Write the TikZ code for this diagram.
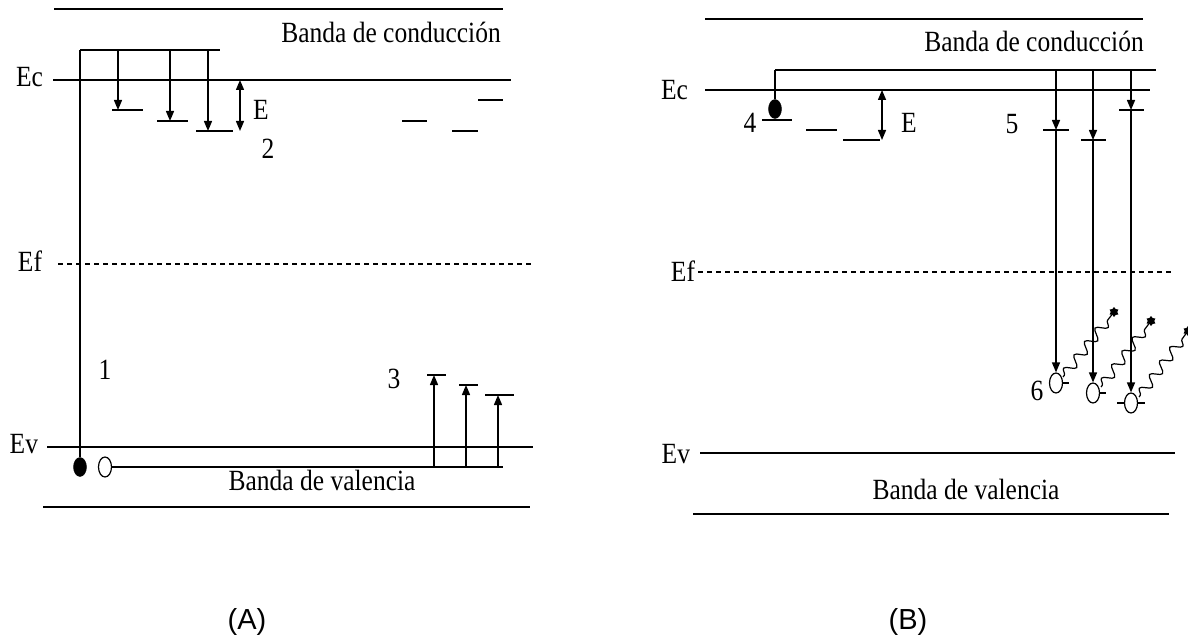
\documentclass[tikz,border=0pt]{standalone}
\usepackage{fontspec}
\usepackage{graphicx}
\setmainfont{Liberation Serif}
\newfontfamily\capsans{Liberation Sans}
\usetikzlibrary{arrows.meta,decorations.pathmorphing,shapes.geometric}
\newcommand\stt[1]{\scalebox{1}[1.15]{#1}}
\tikzset{
  ln/.style={line width=1.4pt, line cap=butt},
  arr/.style={-{Triangle[length=10pt,width=8pt]}},
  darr/.style={{Triangle[length=10pt,width=8pt]}-{Triangle[length=10pt,width=8pt]}},
  lbl/.style={font=\fontsize{25.5}{30}\selectfont, inner sep=0pt, outer sep=0pt},
  captxt/.style={font=\capsans\fontsize{29}{34}\selectfont, inner sep=0pt},
  hole/.style={ellipse, draw, fill=white, minimum width=13pt, minimum height=20pt, inner sep=0pt, line width=1.2pt},
  elec/.style={ellipse, draw, fill=black, minimum width=13pt, minimum height=19pt, inner sep=0pt},
  wave/.style={line width=1.2pt, decorate, decoration={snake, segment length=17pt, amplitude=5pt, pre length=2pt, post length=4pt}},
  phot/.style={star, star points=6, fill=black, inner sep=0pt, minimum size=10pt},
  fermi/.style={line width=1.4pt, dash pattern=on 5pt off 4pt}
}
\begin{document}
\begin{tikzpicture}[x=1pt,y=-1pt]
\useasboundingbox (0,0) rectangle (1188,636);
% ================= Panel A =================
\draw[ln] (54,9) -- (503,9);
\node[lbl, anchor=base] (cbA) at (391,43) {\stt{Banda de conducción}};
\coordinate (topA) at (80,50);
\draw[ln] (topA) -- (220,50);
\draw[ln] (53,80) -- (511,80);
\node[lbl, anchor=base east] (EcA) at (43,87) {\stt{Ec}};
% traps and capture arrows
\coordinate (a1) at (118,110); \coordinate (a2) at (170,121); \coordinate (a3) at (208,131);
\draw[ln] (112,110) -- (143,110);
\draw[ln] (157,121) -- (188,121);
\draw[ln] (196,131) -- (233,131);
\draw[ln,arr] (118,50) -- (a1);
\draw[ln,arr] (170,50) -- (a2);
\draw[ln,arr] (208,50) -- (a3);
\draw[ln,darr] (240,80) -- (240,131);
\node[lbl, anchor=base] (EA) at (261,120) {\stt{E}};
\node[lbl, anchor=base] (n2) at (268,159) {\stt{2}};
\draw[ln] (402,121) -- (427,121);
\draw[ln] (452,131) -- (478,131);
\draw[ln] (478,100) -- (503,100);
% Fermi level
\draw[fermi] (58,264) -- (533,264);
\node[lbl, anchor=base east] (EfA) at (42,272) {\stt{Ef}};
\node[lbl, anchor=base] (n1) at (105,379) {\stt{1}};
\node[lbl, anchor=base] (n3) at (394,388) {\stt{3}};
% valence
\draw[ln] (47,447) -- (533,447);
\node[lbl, anchor=base east] (EvA) at (38,453) {\stt{Ev}};
\node[elec] (eA) at (80,467) {};
\node[hole] (hA) at (105,467) {};
\draw[ln] (topA) -- (eA.north);
\draw[ln] (hA.east) -- (503,467);
\draw[ln,arr] (434,467) -- (434,375);
\draw[ln,arr] (466,467) -- (466,385);
\draw[ln,arr] (498,467) -- (498,395);
\draw[ln] (427,375) -- (446,375);
\draw[ln] (459,385) -- (478,385);
\draw[ln] (485,395) -- (514,395);
\node[lbl, anchor=base] (vbA) at (322,490) {\stt{Banda de valencia}};
\draw[ln] (43,507) -- (530,507);
\node[captxt, anchor=base] (capA) at (247,629) {(A)};
% ================= Panel B =================
\draw[ln] (705,19) -- (1143,19);
\node[lbl, anchor=base] (cbB) at (1034,52) {\stt{Banda de conducción}};
\coordinate (topB) at (775,70);
\draw[ln] (topB) -- (1156,70);
\draw[ln] (705,90) -- (1150,90);
\node[lbl, anchor=base east] (EcB) at (688,100) {\stt{Ec}};
\node[elec] (eB) at (775,109) {};
\draw[ln] (topB) -- (eB.north);
\draw[ln] (762,120) -- (792,120);
\node[lbl, anchor=base] (n4) at (750,133) {\stt{4}};
\draw[ln] (806,130) -- (837,130);
\draw[ln] (843,140) -- (880,140);
\draw[ln,darr] (882,90) -- (882,140);
\node[lbl, anchor=base] (EB) at (909,133) {\stt{E}};
\node[lbl, anchor=base] (n5) at (1012,134) {\stt{5}};
% recombination centres
\coordinate (r1) at (1056,130); \coordinate (r2) at (1093,140); \coordinate (r3) at (1131,110);
\draw[ln] (1043,130) -- (1069,130);
\draw[ln] (1081,140) -- (1106,140);
\draw[ln] (1119,110) -- (1144,110);
\node[hole] (h1) at (1056,383) {};
\node[hole] (h2) at (1093,393) {};
\node[hole] (h3) at (1131,403) {};
\draw[ln,arr] (1056,70) -- (r1);
\draw[ln,arr] (1093,70) -- (r2);
\draw[ln,arr] (1131,70) -- (r3);
\draw[ln,arr] (r1) -- (h1.north);
\draw[ln,arr] (r2) -- (h2.north);
\draw[ln,arr] (r3) -- (h3.north);
\draw[ln] (h1.east) -- +(6,0);
\draw[ln] (h2.east) -- +(6,0);
\draw[ln] (h3.east) -- +(7,0);
\draw[ln] (h3.west) -- +(-7,0);
\node[lbl, anchor=base] (n6) at (1037,400) {\stt{6}};
% photons
\node[phot] (p1) at (1114,312) {};
\node[phot] (p2) at (1151,321) {};
\node[phot] (p3) at (1188,331) {};
\draw[wave] (1063,377) -- (p1);
\draw[wave] (1101,387) -- (p2);
\draw[wave] (1139,397) -- (p3);
% Fermi and valence
\draw[fermi] (698,272) -- (1172,272);
\node[lbl, anchor=base east] (EfB) at (695,281) {\stt{Ef}};
\draw[ln] (700,453) -- (1175,453);
\node[lbl, anchor=base east] (EvB) at (690,463) {\stt{Ev}};
\node[lbl, anchor=base] (vbB) at (966,499) {\stt{Banda de valencia}};
\draw[ln] (693,514) -- (1169,514);
\node[captxt, anchor=base] (capB) at (908,629) {(B)};
\end{tikzpicture}
\end{document}
